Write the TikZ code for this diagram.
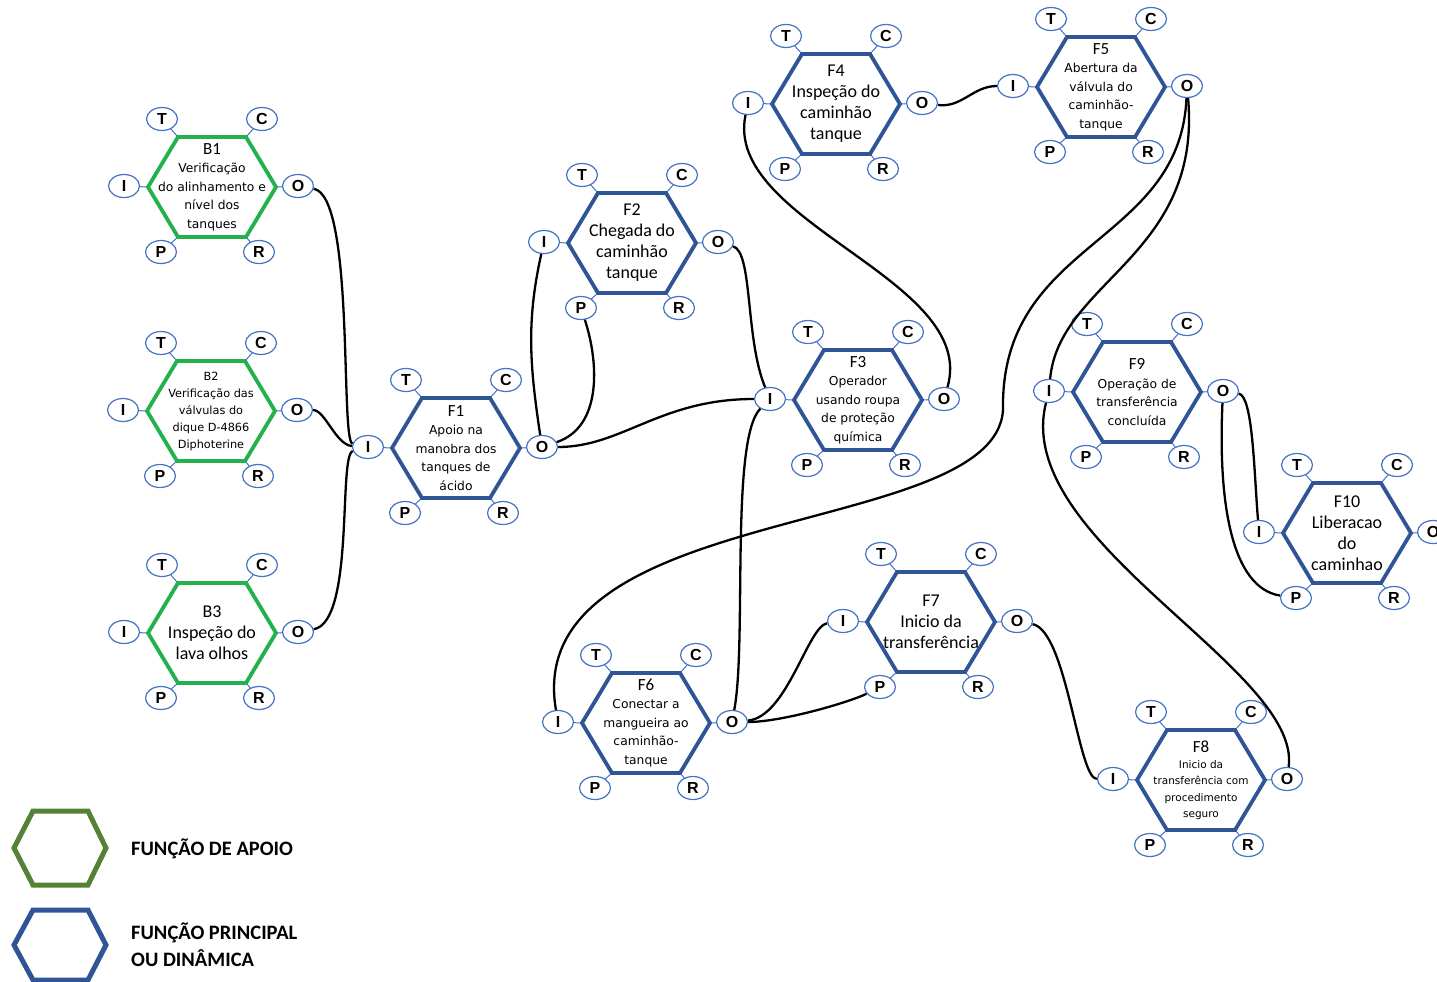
\documentclass[tikz,border=0pt]{standalone}
\usepackage{fontspec}
\setmainfont{DejaVu Sans}
\newfontfamily\carl{Carlito}
\newfontfamily\arl{Liberation Sans}
\usetikzlibrary{shapes.geometric,calc}
\definecolor{Apoio}{HTML}{22B14C}
\definecolor{Princ}{HTML}{2F5597}
\definecolor{Port}{HTML}{4472C4}
\definecolor{ApoioLeg}{HTML}{548235}
\newcommand\ttl[1]{{\carl\fontsize{17}{18}\selectfont #1}}
% function: name, x, y, colour, text style, text
\newcommand\fun[6]{%
  \node[#5] (#1) at (#2,#3) {#6};
  \foreach \p/\dx/\dy/\vx/\vy in {T/-50/-68/-34/-50,C/50/-68/34/-50,I/-88/-1/-64/0,O/86/-1/64/0,P/-51/65/-34/50,R/47/65/34/50}{
    \node[port] (#1-\p) at ($(#1.center)+(\dx,\dy)$) {\p};
    \draw[portln] (#1-\p) -- ($(#1.center)+(\vx,\vy)$);
  }
  \draw[hex,#4,shift={(#1.center)}] (-64,0) -- (-34,-50) -- (34,-50) -- (64,0) -- (34,50) -- (-34,50) -- cycle;
}
\begin{document}
\begin{tikzpicture}[x=1pt,y=-1pt,
 port/.style={ellipse,draw=Port,line width=1.2pt,fill=white,minimum width=31pt,minimum height=23pt,inner sep=0pt,font=\arl\bfseries\fontsize{16}{16}\selectfont},
 portln/.style={draw=Port,line width=1pt},
 hex/.style={line width=3.8pt},
 leghex/.style={line width=5pt},
 sm/.style={align=center,inner sep=0pt,font=\fontsize{12.3}{18.5}\selectfont},
 xs/.style={align=center,inner sep=0pt,font=\fontsize{11.3}{17}\selectfont},
 tiny/.style={align=center,inner sep=0pt,font=\fontsize{10.5}{16.3}\selectfont},
 big/.style={align=center,inner sep=0pt,font=\carl\fontsize{18}{21}\selectfont},
 leg/.style={anchor=west,align=left,inner sep=0pt,font=\carl\bfseries\fontsize{20.5}{27}\selectfont},
 link/.style={draw=black,line width=2.3pt}
]
\useasboundingbox (0,0) rectangle (1437,982);
\fun{B1}{212}{187}{Apoio}{sm}{\ttl{B1}\\Verificação\\do alinhamento e\\nível dos\\tanques}
\fun{B2}{211}{411}{Apoio}{xs}{B2\\Verificação das\\válvulas do\\dique D-4866\\Diphoterine}
\fun{B3}{212}{633}{Apoio}{big}{B3\\Inspeção do\\lava olhos}
\fun{F1}{456}{448}{Princ}{sm}{\ttl{F1}\\Apoio na\\manobra dos\\tanques de\\ácido}
\fun{F2}{632}{243}{Princ}{big}{F2\\Chegada do\\caminhão\\tanque}
\fun{F3}{858}{400}{Princ}{sm}{\ttl{F3}\\Operador\\usando roupa\\de proteção\\química}
\fun{F4}{836}{104}{Princ}{big}{F4\\Inspeção do\\caminhão\\tanque}
\fun{F5}{1101}{87}{Princ}{sm}{\ttl{F5}\\Abertura da\\válvula do\\caminhão-\\tanque}
\fun{F6}{646}{723}{Princ}{sm}{\ttl{F6}\\Conectar a\\mangueira ao\\caminhão-\\tanque}
\fun{F7}{931}{622}{Princ}{big}{F7\\Inicio da\\transferência}
\fun{F8}{1201}{780}{Princ}{tiny}{\ttl{F8}\\Inicio da\\transferência com\\procedimento\\seguro}
\fun{F9}{1137}{392}{Princ}{sm}{\ttl{F9}\\Operação de\\transferência\\concluída}
\fun{F10}{1347}{533}{Princ}{big}{F10\\Liberacao\\do\\caminhao}
\coordinate (dip) at (1003,410);
% couplings
\draw[link] (B1-O) .. controls +(57,10) and +(-28,-6) .. (F1-I);
\draw[link] (B2-O) .. controls +(28,0) and +(-32,-2) .. (F1-I);
\draw[link] (B3-O) .. controls +(57,-10) and +(-30,8) .. (F1-I);
\draw[link] (F1-O) .. controls +(-12,-80) and +(-18,80) .. (F2-I);
\draw[link] (F1-O) .. controls +(60,-20) and +(18,55) .. (F2-P);
\draw[link] (F1-O) .. controls +(80,0) and +(-110,0) .. (F3-I);
\draw[link] (F2-O) .. controls +(35,10) and +(-25,-60) .. (F3-I);
\draw[link] (F6-O) .. controls +(15,-80) and +(-40,40) .. (F3-I);
\draw[link] (F4-I) .. controls +(-25,120) and +(35,-120) .. (F3-O);
\draw[link] (F4-O) .. controls +(40,5) and +(-40,0) .. (F5-I);
\draw[link] (F5-O) .. controls +(-7,160) and (1000,240) .. (dip) .. controls (995,540) and (520,500) .. (F6-I);
\draw[link] (F5-O) .. controls +(15,170) and +(10,-110) .. (F9-I);
\draw[link] (F9-I) .. controls +(-38,150) and +(15,-110) .. (F8-O);
\draw[link] (F9-O) .. controls +(30,5) and +(-5,-60) .. (F10-I);
\draw[link] (F9-O) .. controls +(-5,110) and +(-65,-10) .. (F10-P);
\draw[link] (F6-O) .. controls +(55,-5) and +(-35,5) .. (F7-I);
\draw[link] (F6-O) .. controls +(50,0) and +(-30,15) .. (F7-P);
\draw[link] (F7-O) .. controls +(50,10) and +(-35,0) .. (F8-I);
% legend
\draw[leghex,ApoioLeg] (14,848) -- (33,811) -- (88,811) -- (106,848) -- (88,885) -- (33,885) -- cycle;
\node[leg] (legA) at (131,849) {FUNÇÃO DE APOIO};
\draw[leghex,Princ] (14,945) -- (33,910) -- (88,910) -- (106,945) -- (88,980) -- (33,980) -- cycle;
\node[leg] (legP) at (131,945) {FUNÇÃO PRINCIPAL\\OU DINÂMICA};
\end{tikzpicture}
\end{document}
